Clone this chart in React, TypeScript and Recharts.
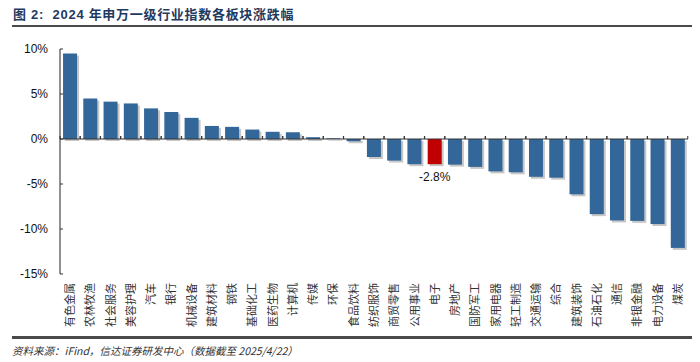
import { Bar, BarChart, LabelList, ReferenceLine, XAxis, YAxis } from "recharts";

const industries = [
  "有色金属", "农林牧渔", "社会服务", "美容护理", "汽车", "银行", "机械设备", "建筑材料",
  "钢铁", "基础化工", "医药生物", "计算机", "传媒", "环保", "食品饮料", "纺织服饰",
  "商贸零售", "公用事业", "电子", "房地产", "国防军工", "家用电器", "轻工制造", "交通运输",
  "综合", "建筑装饰", "石油石化", "通信", "非银金融", "电力设备", "煤炭",
];

const changes = [
  9.5, 4.5, 4.15, 3.95, 3.4, 3.0, 2.35, 1.45,
  1.35, 1.05, 0.8, 0.75, 0.2, 0.08, -0.25, -2.0,
  -2.4, -2.8, -2.8, -2.85, -3.1, -3.6, -3.7, -4.2,
  -4.3, -6.15, -8.35, -9.05, -9.1, -9.45, -12.1,
];

const yTicks = [-15, -10, -5, 0, 5, 10];
const highlight = "电子";
const title = "图 2:  2024 年申万一级行业指数各板块涨跌幅";
const source = "资料来源：iFind，信达证券研发中心（数据截至 2025/4/22）";

const data = industries.map((name, i) => ({ name, value: changes[i] }));

const latin = "'Liberation Sans', Arial, 'Noto Sans CJK SC', sans-serif";
const cjk = "'Noto Sans CJK SC', 'Liberation Sans', sans-serif";

const ShadowBar = (props: any) => {
  const { x, y, width, height, payload } = props;
  const top = Math.min(y, y + height);
  const h = Math.abs(height);
  const zeroY = payload.value >= 0 ? top + h : top;
  const band = width / 0.7;
  const cx = x + width / 2;
  const fill = payload.name === highlight ? "#C00000" : "#336699";
  return (
    <g>
      <rect x={x + 2} y={top + 2} width={width} height={h} fill="#000" opacity={0.22} />
      <rect x={x} y={top} width={width} height={h} fill={fill} />
      <line x1={cx - band / 2} x2={cx - band / 2} y1={zeroY - 3} y2={zeroY} stroke="#333" />
      <line x1={cx + band / 2} x2={cx + band / 2} y1={zeroY - 3} y2={zeroY} stroke="#333" />
    </g>
  );
};

const CategoryTick = ({ x, y, payload }: any) => (
  <text
    x={0}
    y={0}
    transform={`translate(${x + 4},${y + 1}) rotate(-90)`}
    textAnchor="end"
    fontSize={11}
    fontFamily={cjk}
    fill="#333"
  >
    {payload.value}
  </text>
);

const PercentTick = ({ x, y, payload }: any) => (
  <g>
    <text x={x} y={y} dy={4} textAnchor="end" fontSize={12} fontFamily={latin} fill="#111">
      {`${payload.value}%`}
    </text>
    <line x1={x + 12} x2={x + 15} y1={y} y2={y} stroke="#333" />
  </g>
);

const HighlightLabel = (props: any) => {
  const { x, y, width, height, value, index } = props;
  if (data[index].name !== highlight) return null;
  const bottom = Math.max(y, y + height);
  return (
    <text x={x + width / 2} y={bottom + 17} textAnchor="middle" fontSize={12} fontFamily={latin} fill="#111">
      {`${Number(value).toFixed(1)}%`}
    </text>
  );
};

export default function App() {
  return (
    <div style={{ position: "absolute", left: 0, top: 0, width: 700, height: 362, background: "#fff" }}>
      <div
        style={{
          position: "absolute", left: 13, top: 4, fontSize: 13, fontWeight: 700, letterSpacing: 0.7,
          fontFamily: latin, color: "#1F3A5F", whiteSpace: "pre",
        }}
      >
        {title}
      </div>
      <div style={{ position: "absolute", left: 12, top: 25, width: 680, height: 2, background: "#4a4a4a" }} />
      <BarChart
        width={700}
        height={362}
        data={data}
        margin={{ top: 49, right: 12, left: 0, bottom: 0 }}
        barCategoryGap="15%"
      >
        <XAxis dataKey="name" interval={0} axisLine={false} tickLine={false} height={88} tick={<CategoryTick />} />
        <YAxis
          domain={[-15, 10]}
          ticks={yTicks}
          width={60}
          tickSize={6}
          tickMargin={6}
          tickLine={false}
          axisLine={{ stroke: "#222" }}
          tick={<PercentTick />}
          allowDataOverflow
        />
        <ReferenceLine y={0} stroke="#333" />
        <Bar dataKey="value" shape={<ShadowBar />} isAnimationActive={false}>
          <LabelList dataKey="value" content={<HighlightLabel />} />
        </Bar>
      </BarChart>
      <div style={{ position: "absolute", left: 12, top: 336, width: 680, height: 3, background: "#4a4a4a" }} />
      <div
        style={{
          position: "absolute", left: 12, top: 343, fontSize: 10.5, fontStyle: "italic",
          fontFamily: cjk, color: "#333", whiteSpace: "pre",
        }}
      >
        {source}
      </div>
    </div>
  );
}
